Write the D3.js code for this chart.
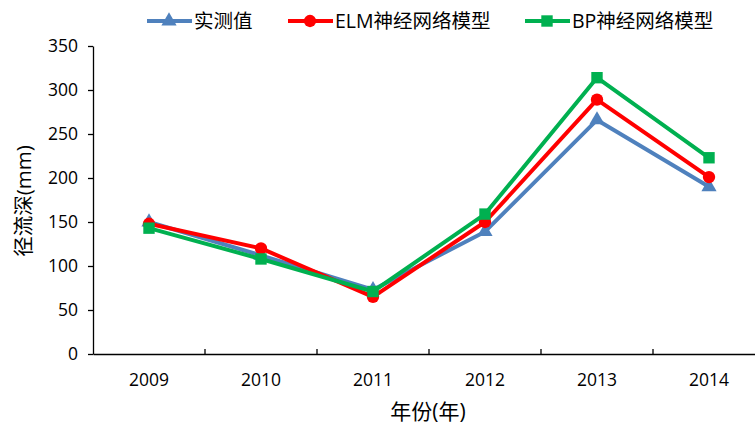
<!DOCTYPE html>
<html><head><meta charset="utf-8">
<script src="https://cdn.jsdelivr.net/npm/d3@7"></script>
<style>body{margin:0;background:#fff}svg{display:block}</style>
</head><body><svg id="c" width="755" height="426"></svg>
<script>
const years = ["2009","2010","2011","2012","2013","2014"];
const observed = [150, 112, 73, 139, 266, 190];
const elm = [148, 120, 65, 150, 289, 201];
const bp = [143, 108, 71, 159, 314, 223];
const yTicks = [0, 50, 100, 150, 200, 250, 300, 350];
const seriesNames = ["实测值", "ELM神经网络模型", "BP神经网络模型"];
const seriesColors = ["#4F81BD", "#FF0000", "#00B050"];
const seriesShapes = ["triangle", "circle", "square"];

const series = [observed, elm, bp].map((v, i) => ({name: seriesNames[i], values: v, color: seriesColors[i], shape: seriesShapes[i]}));
const svg = d3.select("#c");
const font = "'Open Sans','Noto Sans CJK SC',sans-serif";
const x0 = 93, x1 = 765, yTop = 46, yBot = 354;
const x = d3.scaleBand().domain(years).range([x0, x1]);
const y = d3.scaleLinear().domain([0, 350]).range([yBot, yTop]);

// y axis
const ya = svg.append("g").attr("transform", `translate(${x0},0)`)
  .call(d3.axisLeft(y).tickValues(yTicks).tickSize(5).tickPadding(10).tickSizeOuter(0));
ya.select(".domain").attr("stroke", "#000").attr("stroke-width", 1.3);
ya.selectAll(".tick line").attr("stroke", "#000").attr("stroke-width", 1.3);
ya.selectAll("text").attr("font-family", font).attr("font-size", 17.5).attr("fill", "#000");

// x axis: ticks between categories, pointing up
const xa = svg.append("g").attr("transform", `translate(0,${yBot})`)
  .call(d3.axisBottom(x).tickSize(0).tickPadding(20).tickSizeOuter(0));
xa.select(".domain").attr("stroke", "#000").attr("stroke-width", 1.3);
xa.selectAll("text").attr("font-family", font).attr("font-size", 17.5).attr("fill", "#000");
svg.append("g").selectAll("line").data(years.slice(1)).join("line")
  .attr("x1", d => x(d)).attr("x2", d => x(d))
  .attr("y1", yBot).attr("y2", yBot - 5)
  .attr("stroke", "#000").attr("stroke-width", 1.3);

// titles
svg.append("text").attr("x", 428).attr("y", 419).attr("text-anchor", "middle")
  .attr("font-family", font).attr("font-size", 21).text("年份(年)");
svg.append("text").attr("transform", "translate(31,201) rotate(-90)").attr("text-anchor", "middle")
  .attr("font-family", font).attr("font-size", 20.5).text("径流深(mm)");

const sym = {
  triangle: d3.symbol().type(d3.symbolTriangle).size(100),
  circle: d3.symbol().type(d3.symbolCircle).size(120),
  square: d3.symbol().type(d3.symbolSquare).size(130)
};
const line = d3.line().x((d, i) => x(years[i]) + x.bandwidth() / 2).y(d => y(d));

series.forEach(s => {
  const g = svg.append("g");
  g.append("path").attr("d", line(s.values)).attr("fill", "none")
    .attr("stroke", s.color).attr("stroke-width", 4).attr("stroke-linejoin", "round");
  g.selectAll("path.m").data(s.values).join("path").attr("class", "m")
    .attr("transform", (d, i) => `translate(${x(years[i]) + x.bandwidth() / 2},${y(d)})`)
    .attr("d", sym[s.shape]()).attr("fill", s.color);
});

// legend
const legX = [147, 288, 525];
const legY = 21;
series.forEach((s, i) => {
  const g = svg.append("g").attr("transform", `translate(${legX[i]},${legY})`);
  g.append("line").attr("x1", 0).attr("x2", 45).attr("stroke", s.color).attr("stroke-width", 4);
  g.append("path").attr("transform", "translate(22,0)").attr("d", sym[s.shape]()).attr("fill", s.color);
  g.append("text").attr("x", 47).attr("y", 0).attr("dy", "0.35em")
    .attr("font-family", font).attr("font-size", 19.5).text(s.name);
});
</script></body></html>
